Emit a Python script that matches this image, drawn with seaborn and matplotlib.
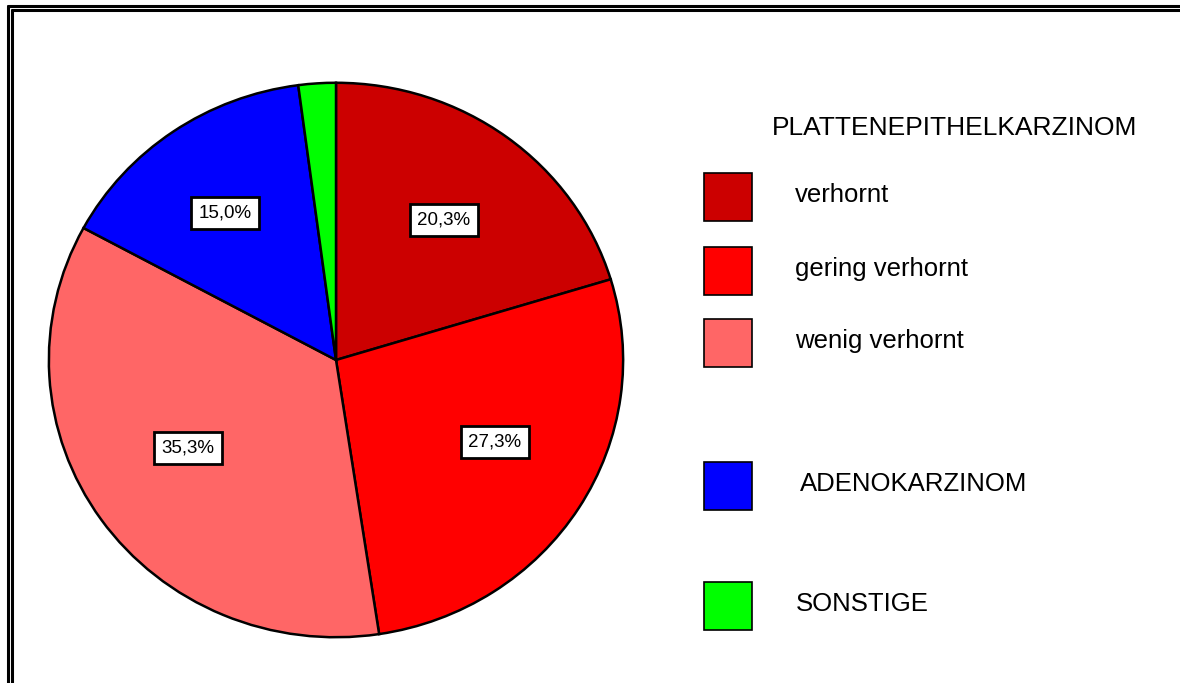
import seaborn as sns
import matplotlib
matplotlib.use("Agg")
import matplotlib.pyplot as plt
from matplotlib.patches import Rectangle
from matplotlib.lines import Line2D

sns.set_theme(style="white")
plt.rcParams["font.family"] = ["Liberation Sans", "DejaVu Sans"]
plt.rcParams["text.color"] = "black"

categories = ["verhornt", "gering verhornt", "wenig verhornt", "ADENOKARZINOM", "SONSTIGE"]
shares = [20.3, 27.3, 35.3, 15.0, 2.1]
colors = ["#CC0000", "#FF0000", "#FF6666", "#0000FF", "#00FF00"]
legend_title = "PLATTENEPITHELKARZINOM"

W, H = 1180, 683
fig = plt.figure(figsize=(W / 100, H / 100), dpi=100)
fig.patch.set_facecolor("white")


def fx(px):
    return px / W


def fy(py):
    return 1 - py / H


# pie axes spans the pie's bounding box
ax = fig.add_axes([fx(46), fy(640), fx(580), 560 / H])


def fmt(p):
    if p < 5:
        return ""
    return f"{p:.1f}%".replace(".", ",")


wedges, texts, autotexts = ax.pie(
    shares,
    colors=colors,
    startangle=90,
    counterclock=False,
    autopct=fmt,
    pctdistance=0.63,
    wedgeprops=dict(edgecolor="black", linewidth=1.8),
    textprops=dict(fontsize=13.5, color="black"),
)
for t in autotexts:
    if t.get_text():
        t.set_bbox(dict(facecolor="white", edgecolor="black", linewidth=2, boxstyle="square,pad=0.4"))
# small nudges so the boxes sit where the original has them
nudges = [(0, 0), (0.02, 0.04), (0, 0.045), (-0.03, 0.01)]
for t, (dx, dy) in zip(autotexts, nudges):
    x, y = t.get_position()
    t.set_position((x + dx, y + dy))
ax.set_aspect("auto")
ax.set_xlim(-1.01, 1.01)
ax.set_ylim(-1.01, 1.01)
ax.axis("off")

# manual legend
fig.text(fx(772), fy(128), legend_title, fontsize=19, va="center", ha="left")
box_tops = [173, 247, 319, 462, 582]
text_x = [795, 795, 795, 800, 796]
for lab, col, top, tx in zip(categories, colors, box_tops, text_x):
    fig.add_artist(Rectangle((fx(704), fy(top + 48)), fx(48), 48 / H,
                             facecolor=col, edgecolor="black", linewidth=1.2,
                             transform=fig.transFigure))
    fig.text(fx(tx), fy(top + 22), lab, fontsize=18.5, va="center", ha="left")

# double frame on left and top
for x in [7.5, 11.5]:
    fig.add_artist(Line2D([fx(x), fx(x)], [fy(x - 2), 0], color="black", linewidth=2.2,
                          transform=fig.transFigure))
for y in [5.5, 9.5]:
    fig.add_artist(Line2D([fx(y + 2), 1], [fy(y), fy(y)], color="black", linewidth=2.2,
                          transform=fig.transFigure))

fig.savefig("out.png", dpi=100)
